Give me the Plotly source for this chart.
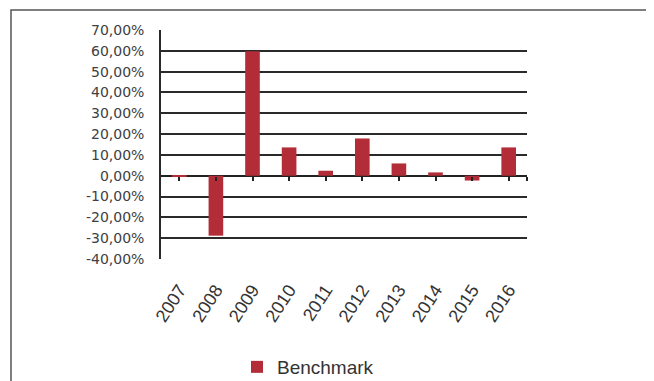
import plotly.graph_objects as go

years = ["2007", "2008", "2009", "2010", "2011", "2012", "2013", "2014", "2015", "2016"]
benchmark = [-0.3, -28.8, 59.8, 13.6, 2.4, 17.9, 5.9, 1.6, -2.3, 13.6]
y_ticks = [-40, -30, -20, -10, 0, 10, 20, 30, 40, 50, 60, 70]
y_tick_labels = ["-40,00%", "-30,00%", "-20,00%", "-10,00%", "0,00%", "10,00%",
                 "20,00%", "30,00%", "40,00%", "50,00%", "60,00%", "70,00%"]

W, H = 654, 381
OFF = 8  # page body margin offset
L, R, T, B = 161 - OFF, 527 - OFF, 30 - OFF, 259 - OFF

fig = go.Figure()
fig.add_trace(go.Bar(
    x=years, y=benchmark, name="Benchmark",
    marker=dict(color="#B22D37", line=dict(width=0)),
    showlegend=True,
))
# invisible trace to host the zero-line tick axis
fig.add_trace(go.Scatter(x=[0], y=[0], xaxis="x2", mode="markers",
                         marker=dict(opacity=0), showlegend=False, hoverinfo="skip"))

fig.update_layout(
    width=W, height=H,
    margin=dict(l=L, r=W - R, t=T, b=H - B, pad=0, autoexpand=False),
    paper_bgcolor="white", plot_bgcolor="white",
    bargap=0.6,
    xaxis=dict(
        type="category", categoryorder="array", categoryarray=years,
        showgrid=False, zeroline=False, showline=False, ticks="",
        tickangle=-57, ticklabelstandoff=16,
        tickfont=dict(family="Liberation Sans", size=18, color="#333333"),
    ),
    xaxis2=dict(
        overlaying="x", anchor="free", position=40 / 110,
        range=[-0.5, 9.5], showgrid=False, zeroline=False, showline=False,
        tickvals=[0, 1, 2, 3, 4, 5, 6, 7, 8, 9, 9.5],
        showticklabels=False, ticks="outside", ticklen=4, tickwidth=1.5,
        tickcolor="#222222",
    ),
    yaxis=dict(
        range=[-40, 70], tickvals=y_ticks, ticktext=y_tick_labels,
        showgrid=True, gridcolor="#2a2a2a", gridwidth=1.6,
        zeroline=True, zerolinecolor="#222222", zerolinewidth=2.2,
        showline=True, linecolor="#2a2a2a", linewidth=1.6,
        ticks="", ticklabelstandoff=12,
        tickfont=dict(family="DejaVu Sans", size=14, color="#404040"),
    ),
    legend=dict(
        orientation="h", xref="container", yref="container",
        x=(237 - OFF) / W, y=1 - (367 - OFF) / H, xanchor="left", yanchor="middle",
        font=dict(family="Liberation Sans", size=19, color="#333333"),
        itemwidth=30, bgcolor="rgba(0,0,0,0)",
    ),
    shapes=[dict(
        type="rect", xref="paper", yref="paper",
        x0=(11 - OFF - L) / (R - L), x1=(700 - L) / (R - L),
        y0=(B - 420) / (B - T), y1=(B - (10 - OFF)) / (B - T),
        line=dict(color="#555555", width=1.5), layer="below",
    )],
)

fig.write_html("out.html")
